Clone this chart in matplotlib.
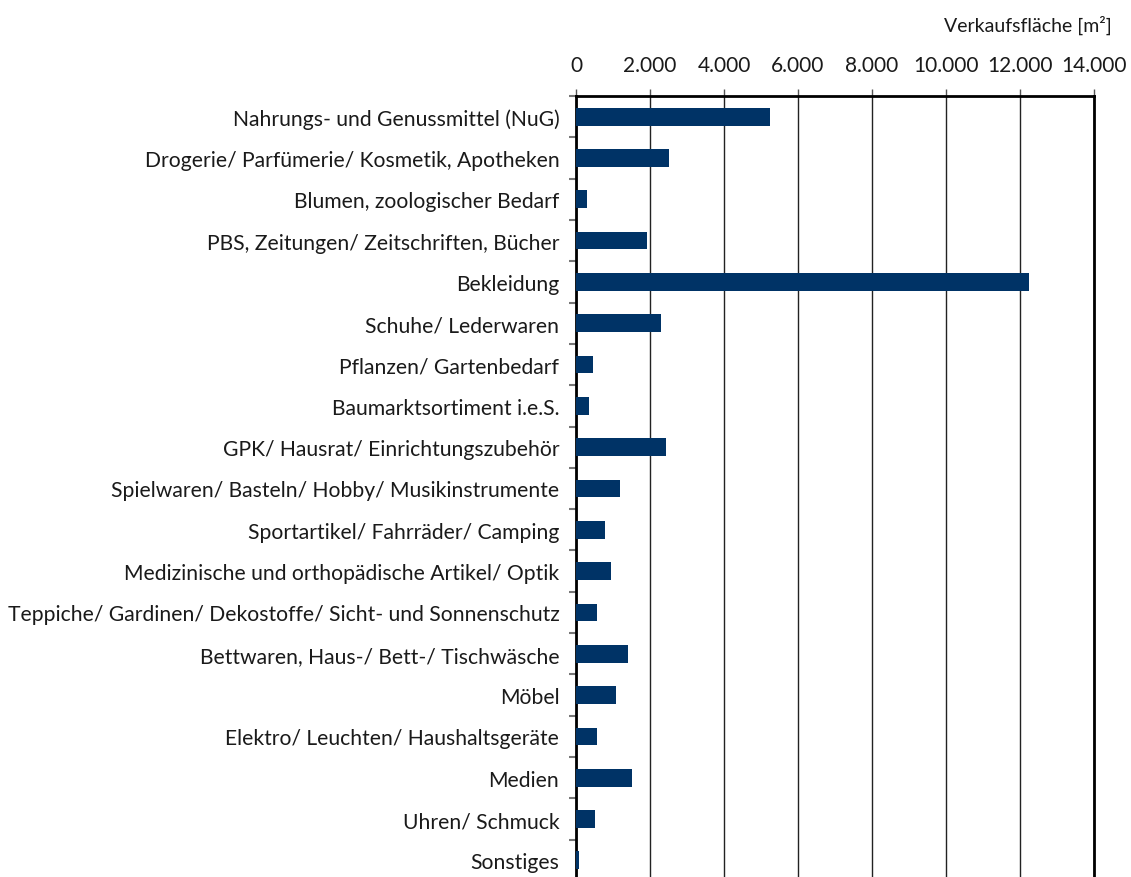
import matplotlib
matplotlib.use('Agg')
import matplotlib.pyplot as plt
from matplotlib.ticker import FuncFormatter, FixedLocator
import numpy as np

plt.rcParams['font.family'] = ['Lato', 'DejaVu Sans']

categories = [
    'Nahrungs- und Genussmittel (NuG)',
    'Drogerie/ Parfümerie/ Kosmetik, Apotheken',
    'Blumen, zoologischer Bedarf',
    'PBS, Zeitungen/ Zeitschriften, Bücher',
    'Bekleidung',
    'Schuhe/ Lederwaren',
    'Pflanzen/ Gartenbedarf',
    'Baumarktsortiment i.e.S.',
    'GPK/ Hausrat/ Einrichtungszubehör',
    'Spielwaren/ Basteln/ Hobby/ Musikinstrumente',
    'Sportartikel/ Fahrräder/ Camping',
    'Medizinische und orthopädische Artikel/ Optik',
    'Teppiche/ Gardinen/ Dekostoffe/ Sicht- und Sonnenschutz',
    'Bettwaren, Haus-/ Bett-/ Tischwäsche',
    'Möbel',
    'Elektro/ Leuchten/ Haushaltsgeräte',
    'Medien',
    'Uhren/ Schmuck',
    'Sonstiges',
]
flaeche = [5240, 2510, 290, 1920, 12240, 2300, 460, 350, 2430,
           1190, 780, 950, 570, 1410, 1080, 570, 1510, 510, 80]
x_ticks = [0, 2000, 4000, 6000, 8000, 10000, 12000, 14000]

fig = plt.figure(figsize=(11.31, 8.78), dpi=100)
ax = fig.add_axes([576/1131, 1 - 882/878, 518/1131, 785/878])

y = np.arange(len(categories))
ax.barh(y, flaeche, height=0.43, color='#003366', zorder=3)

ax.set_xlim(0, 14000)
ax.set_ylim(len(categories) - 0.5, -0.5)

ax.xaxis.tick_top()
ax.set_xticks(x_ticks)
ax.xaxis.set_major_formatter(FuncFormatter(lambda v, p: f'{int(v):,}'.replace(',', '.')))
ax.tick_params(axis='x', top=True, bottom=False, length=5, width=1, color='#555555',
               pad=10, labelsize=15, labelcolor='#1a1a1a')
ax.grid(axis='x', color='#222222', linewidth=1, zorder=1)

ax.set_yticks(y)
ax.set_yticklabels(categories)
ax.yaxis.set_minor_locator(FixedLocator(np.arange(-0.5, len(categories), 1)))
ax.tick_params(axis='y', which='major', length=0, pad=12, labelsize=15.2, labelcolor='#1a1a1a')
ax.tick_params(axis='y', which='minor', length=5, width=1.5, color='#777777')

for side in ['left', 'top', 'right']:
    ax.spines[side].set_linewidth(2)
    ax.spines[side].set_color('black')
ax.spines['bottom'].set_visible(False)

fig.text(1112/1131, 1 - 25/878, 'Verkaufsfläche [m²]', ha='right', va='center',
         fontsize=14, color='#1a1a1a')

fig.savefig('out.png', dpi=100)
